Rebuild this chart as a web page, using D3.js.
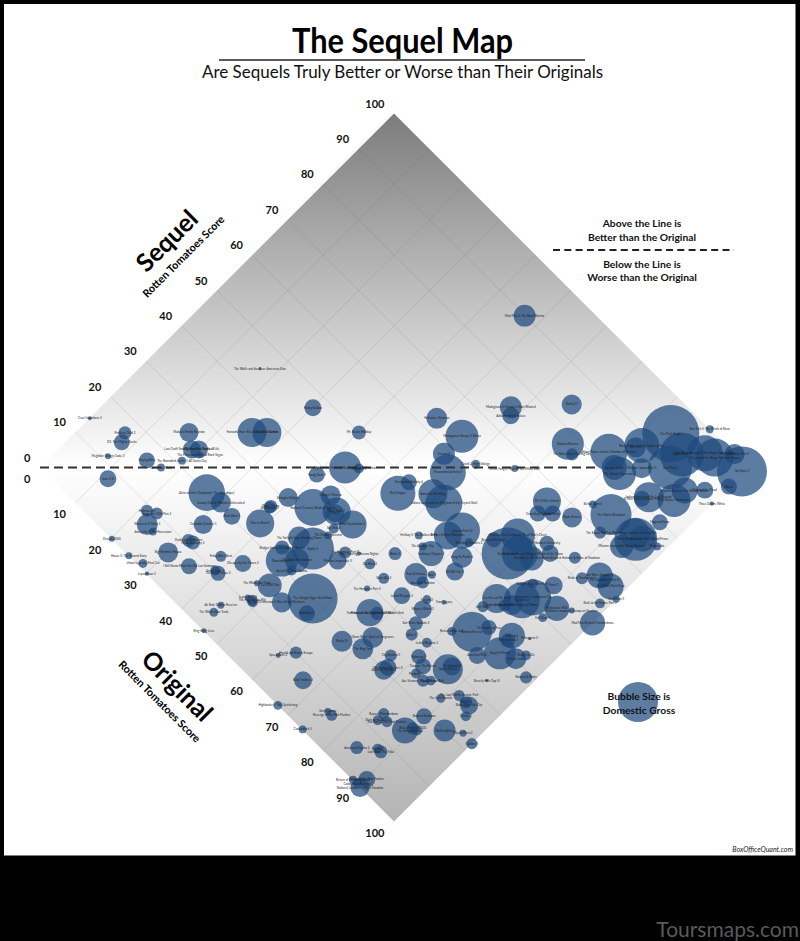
<!DOCTYPE html>
<html><head><meta charset="utf-8">
<style>html,body{margin:0;padding:0;background:#000}svg{display:block}text{font-family:Lato,"Open Sans",sans-serif}</style>
<script src="https://cdn.jsdelivr.net/npm/d3@7"></script></head><body><div id="c"></div>
<script>
// rows of ten
const titles=[
"Cruel Intentions 2","Problem Child 2","D2: The Mighty Ducks","Megiddo: Omega Code 2","Staying Alive","The Boondock Saints II: All Saints Day","Son of the Mask","Madea's Family Reunion","Lara Croft Tomb Raider: The Cradle of Life","Big Momma's House 2",
"The Flintstones in Viva Rock Vegas","Fantastic Four: Rise of the Silver Surfer","Angels & Demons","Jaws 3-D","Alvin and the Chipmunks: The Squeakquel","Scooby-Doo 2: Monsters Unleashed","Rush Hour 3","Crocodile Dundee II","Halloween II","Friday the 13th Part 2",
"Whatever It Takes 3","Amityville II: The Possession","Dracula 2000","House II: The Second Story","Urban Legends: Final Cut","Leprechaun 2","Big Momma's House","Dumb and Dumberer","Police Academy 2","I Still Know What You Did Last Summer",
"Stuart Little 2","The Santa Clause 2","Friday After Next","Cheaper by the Dozen 2","Men in Black II","Anchorman 2","The Whole Ten Yards","Teen Wolf Too","Leprechaun 3","The Next Karate Kid",
"The Fly II","Air Bud: Golden Receiver","The Whole Nine Yards","Rocky Balboa","Mr. Bean's Holiday","Hellraiser: Nemesis","Madagascar: Escape 2 Africa","Scream 4","Paranormal Activity 3","Crank 2: High Voltage",
"White Fang 2: Myth of the White Wolf","Madagascar 3: Europe's Most Wanted","Addams Family Values","Night at the Museum: Battle of the Smithsonian","Hellraiser II","Young Guns II","Shanghai Knights","National Treasure: Book of Secrets","Ocean's Thirteen","Rush Hour 2",
"Cars 2","Final Destination 2","Blade: Trinity","Spy Kids 2","The Mummy Returns","Red Dragon","Paranormal Activity 4","American Wedding","Indiana Jones and the Kingdom of the Crystal Skull","Jurassic Park III",
"X-Men Origins: Wolverine","Hellboy II: The Golden Army","Wedding Crashers 2","Beverly Hills Cop II","Pirates of the Caribbean: Dead Man's Chest","Shrek the Third","Clear and Present Danger","Kung Fu Panda 2","Insidious: Chapter 2","Die Another Day",
"Blade II","Kill Bill: Vol. 1","Fast & Furious","American Reunion","Saw II","Die Hard 2","Sister Act 2","The Hangover Part II","Lethal Weapon 2","Scream 2",
"Wayne's World 2","Tron: Legacy","Transformers: Revenge of the Fallen","Pirates of the Caribbean: At World's End","The Twilight Saga: New Moon","Bad Boys II","Terminator 3: Rise of the Machines","Rocky V","The Twilight Saga: Breaking Dawn","Ghostbusters II",
"The Matrix Revolutions","Speed 2: Cruise Control","Bridget Jones: The Edge of Reason","Mission: Impossible II","The Hangover Part III","Dirty Dancing: Havana Nights","Live Free or Die Hard","Toy Story 2","Iron Man 3","Friday the 13th",
"Batman Forever","Rocky III","Batman Returns","The Naked Gun: The Big Day","The Dark Knight","Harry Potter and the Chamber of Secrets","Licence to Kill","The Bourne Supremacy","Harry Potter and the Goblet of Fire","Star Trek",
"Mission: Impossible III","Iron Man 2","Spider-Man 2","Star Wars: Episode V The Empire Strikes Back","The Lord of the Rings: The Two Towers","Star Trek II: The Wrath of Khan","The Godfather: Part II","Toy Story 3","Aliens","Dawn of the Dead",
"Captain America: The Winter Soldier","The Bourne Ultimatum","Indiana Jones and the Last Crusade","X-Men: Days of Future Past","Three Colors: White","Before Sunset","The Matrix Reloaded","Magnum Force","Shrek 2","The Hunger Games: Catching Fire",
"Harry Potter and the Half-Blood Prince","Mission: Impossible Ghost Protocol","The Karate Kid Part II","Desperado","X2: X-Men United","Crouching Tiger II","Tomb Raider","Blade Runner","Monsters University","Wrath of the Titans",
"Sherlock Holmes: A Game of Shadows","Gremlins 2: The New Batch","Star Wars: Episode III","Hot Shots! Part Deux","The Godfather: Part III","Bride of Frankenstein","Superman II","Back to the Future Part II","Jaws 2","Terminator 2: Judgment Day",
"Twilight Zone: The Movie","Halloween: H20","National Lampoon's European Vacation","Mad Max Beyond Thunderdome","Evil Dead II","Indiana Jones and the Temple of Doom","Star Wars: Episode II","Alien 3","The Empire of Fear","Return of the Jedi",
"Sister Act","Men in Black 3","Kung Fu Panda","American Pie 2","Fletch Lives","Return to Oz","Poltergeist II","Lethal Weapon 3","Robocop 2","Cocoon: The Return",
"Spider-Man 3","The Exorcist II","Predator 2","Ace Ventura: When Nature Calls","Speed Racer 2","Batman & Robin","Beverly Hills Cop III","The Little Rascals","The Lost World: Jurassic Park","Babe: Pig in the City",
"Porky's II","Grease 2","Book of Shadows","The Sting II","Hannibal","Shaft in Africa","Mystic Pizza 2","Cocoon II","King Kong Lives","Rocky IV",
"Ghost Rider: Spirit of Vengeance","The Ring Two","Harold and Kumar Escape","Speed Zone 2","Basic Instinct 2","Highlander II: The Quickening","Caddyshack II","Son of Lassie","Revenge of the Pink Panther","Beyond Thunderdome",
"Back to the Beach","Star Trek V: The Final Frontier","Blues Brothers 2000","American Psycho 2","Psycho II","Lost Boys: The Tribe","Return of the Pink Panther","Return of the Living Dead","National Lampoon's Vegas Vacation","Caddyshack Returns",
"Weekend at Bernie's II","Aliens vs. Predator","City Slickers II","Mad Max 2: The Road Warrior","The Wolfe and the Bear: American Zion"];

const originalScore=[
0.1,7.1,8,8,14.1,19.1,17.1,16.1,18.9,19.9,
20.8,25,27.1,11.2,27.1,30.5,34,31.1,21.2,23,
23.2,25,20.2,25,28.1,30.1,30.1,31.3,32.2,35,
39.3,40.1,38.1,42.2,39,38.1,47,49.1,47.7,48.7,
49.1,45,45,30.1,40.1,49.1,55.2,55.1,58.3,61.1,
67.2,58,59.2,43.1,45.2,40.1,39.3,44.2,45,48.1,
48.1,52.2,38.1,50.1,50.3,54.2,54.2,59.2,62.1,68.5,
67.2,63.1,71.2,74.3,77.1,78.2,79.9,72.3,67.4,65.2,
62.3,73.3,68.2,70.3,70.5,60.2,64.2,63.3,69.2,73.3,
74.1,76.1,67.1,68.2,57,58.3,53.2,50,46.5,47.3,
49.4,50.1,45.5,55.2,55.1,57.2,83,86.8,82.2,85.1,
84.2,66.2,71.2,73.3,84.3,78.2,81.1,82.7,81.9,81.3,
85.1,89,88.8,91.9,93.9,89.2,96.2,99.7,100,97.1,
94.3,94.2,90.2,89.4,100,83.3,87.3,95.3,94.3,93.3,
95.2,93.3,88.3,98.3,76.4,76.8,78.9,82.2,82.3,84.2,
88.3,82.3,94.3,97.4,95.7,92.2,100,98.3,89.2,88,
86,92.9,95.3,100,92.2,86.1,75.1,76.1,86,81.3,
90.4,90.5,91.2,88.3,94.2,95.2,93.3,79.4,80.2,82.2,
86.1,86.3,82.2,84.2,85.3,98.3,93.2,89.2,91.4,94.2,
93.3,95.3,89.4,88.7,90.4,94.3,97.3,100,46.2,67.2,
71,71.2,62.3,60.2,67.2,67.2,74.1,75.1,76.2,83.3,
83.4,84.9,89.5,84.3,87.4,88.3,90.2,88.3,90.4,89.4,
77.4,77.2,76.1,47,17.1];

const sequelScore=[
14,16.9,15.1,11.2,16.1,21,17.1,26,24,25,
24.4,34.9,37,8,20,20.6,20.2,15,9,10,
7.1,6.9,0.1,0.1,1,0.1,6.1,10.7,11,7.1,
10.2,10.2,13,15.1,23.2,26.8,14.3,15.8,11,11.2,
11,6.1,4.1,47,50,63,64,59,56.9,62,
66.9,75,73.8,43.1,44.9,38.1,30.8,32.9,37.1,35.7,
35.2,36.1,27.1,32.9,31.1,46.9,50,51.8,52,50.7,
48,43.9,50,53.9,57.9,53.9,55.6,46.9,43.1,42.9,
38,43.9,38,37.8,40.2,33,32.9,29.1,33,36,
34,38,26.1,27,20,17.1,15.1,27.1,26.7,21,
23.2,21,22.9,28.9,31.1,32.9,46,49.3,42.9,46.2,
37.8,84,77.9,77,93.9,82.5,81.1,81,88.1,87,
84.9,89,92.5,95.9,96.7,100,100,98.6,94.6,90.7,
87.8,84.9,81.8,80.6,89.8,72.9,74,79.8,74,74.7,
75.1,71,69.9,76,66.8,63.8,65.9,68.1,60.9,59.9,
62.8,56.6,63.8,63.8,63.8,60.9,62.8,59.9,55.9,51.3,
53.2,53.1,54.9,56.1,49.8,47.2,31.1,28.9,40.8,35,
42.9,41.7,38.7,35.2,40.2,42.1,45,29.9,26.8,26,
29.1,30.1,24,24,25.1,39,33,24,27,27,
27,25,19.1,14.4,16.1,20,22.2,22,0.1,18.1,
23,20,10,7.1,7.1,0,0.1,6.2,6.2,13.8,
12,13.1,15.8,5.2,8,8,2.1,0.1,0,0.1,
20.9,19.9,23,89.9,45];

const domesticGross=[
2.6,28,42,6,42,10,10,59,53,53,
6,138,138,47,219,66,47,59,24,24,
72,10,6,8,13,3,66,28,32,42,
16,37,20,47,129,24,6,94,6,20,
16,8,13,47,32,72,179,79,213,13,
8,79,47,168,16,42,59,224,66,129,
53,129,28,16,10,201,42,138,224,213,
129,10,13,37,190,443,213,72,103,10,
28,53,87,24,10,20,20,6,47,13,
53,4,120,28,410,42,66,289,79,168,
94,16,32,53,24,3,138,213,20,24,
262,66,168,24,533,224,103,179,201,66,
66,317,317,213,237,10,66,410,42,47,
111,179,148,42,3,10,276,42,303,148,
111,87,24,10,129,42,42,66,37,47,
24,94,111,111,24,24,8,16,53,213,
16,103,6,103,13,66,32,24,37,13,
111,32,168,47,72,16,1.5,16,37,42,
148,53,16,24,16,24,1.5,13,20,53,
24,16,42,111,16,79,8,20,4,72,
72,72,24,4,53,13,10,8,20,20,
16,20,24,28,16,28,47,10,59,10,
47,59,24,79,1.5];

const sequelTicks=[0,10,20,30,40,50,60,70,80,90,100];
const originalTicks=[0,10,20,30,40,50,60,70,80,90,100];
const legendGross=[262];
const headline="The Sequel Map";
const subhead="Are Sequels Truly Better or Worse than Their Originals";
const aboveNote=["Above the Line is","Better than the Original"];
const belowNote=["Below the Line is","Worse than the Original"];
const legendNote=["Bubble Size is","Domestic Gross"];

const W=800,H=941;
const svg=d3.select("#c").append("svg").attr("width",W).attr("height",H);
const sumX=d3.scaleLinear().domain([0,200]).range([40,748]);
const diffY=d3.scaleLinear().domain([-100,100]).range([821.5,113.5]);
const r=d3.scaleSqrt().domain([0,533]).range([0,28.5]);
const px=(o,s)=>sumX(o+s), py=(o,s)=>diffY(s-o);

svg.append("rect").attr("width",W).attr("height",H).attr("fill","#000");
svg.append("rect").attr("x",4).attr("y",4).attr("width",791.5).attr("height",851.5).attr("fill","#fff");

const grad=svg.append("defs").append("linearGradient").attr("id","g").attr("gradientUnits","userSpaceOnUse")
 .attr("x1",0).attr("x2",0).attr("y1",diffY(100)).attr("y2",diffY(-100));
[[0,"#7c7c7c"],[.5,"#ffffff"],[1,"#b4b4b4"]].forEach(d=>grad.append("stop").attr("offset",d[0]).attr("stop-color",d[1]));

const corners=[[0,0],[0,100],[100,100],[100,0]];
svg.append("path").attr("d",d3.line().x(d=>px(d[0],d[1])).y(d=>py(d[0],d[1]))(corners)+"Z").attr("fill","url(#g)");

// grid
const gridG=svg.append("g").attr("stroke","#666").attr("stroke-opacity",.17).attr("stroke-width",1);
d3.range(10,100,10).forEach(v=>{
  gridG.append("line").attr("x1",px(0,v)).attr("y1",py(0,v)).attr("x2",px(100,v)).attr("y2",py(100,v));
  gridG.append("line").attr("x1",px(v,0)).attr("y1",py(v,0)).attr("x2",px(v,100)).attr("y2",py(v,100));
});

// tick labels
const tickStyle=s=>s.attr("font-size",11).attr("font-weight",700).attr("fill","#111").attr("text-anchor","end").attr("dominant-baseline","central");
svg.append("g").selectAll("text").data(sequelTicks).join("text").call(tickStyle)
 .attr("x",d=>px(0,d)-9.5).attr("y",d=>py(0,d)-10.5).text(d=>d);
svg.append("g").selectAll("text").data(originalTicks).join("text").call(tickStyle)
 .attr("x",d=>px(d,0)-9.5).attr("y",d=>py(d,0)+11).text(d=>d);

// bubbles
const idx=d3.range(titles.length);
svg.append("g").attr("fill","#1f497d").attr("fill-opacity",.72).selectAll("circle").data(idx).join("circle")
 .attr("cx",i=>px(originalScore[i],sequelScore[i])).attr("cy",i=>py(originalScore[i],sequelScore[i])).attr("r",i=>r(domesticGross[i]));

// zero line
svg.append("line").attr("x1",sumX(0)).attr("x2",598).attr("y1",diffY(0)).attr("y2",diffY(0))
 .attr("stroke","#333").attr("stroke-width",2).attr("stroke-dasharray","9 5");

// bubble labels
svg.append("g").attr("font-size",3).attr("fill","#222").attr("text-anchor","middle").attr("dominant-baseline","central")
 .selectAll("text").data(idx).join("text")
 .attr("x",i=>px(originalScore[i],sequelScore[i])).attr("y",i=>py(originalScore[i],sequelScore[i])).text(i=>titles[i]);

// titles
svg.append("text").attr("x",402.5).attr("y",53).attr("text-anchor","middle").attr("font-size",34).attr("font-weight",700).attr("fill","#000")
 .attr("textLength",221).attr("lengthAdjust","spacingAndGlyphs").text(headline);
svg.append("line").attr("x1",219).attr("x2",585).attr("y1",60).attr("y2",60).attr("stroke","#222").attr("stroke-width",1.5);
svg.append("text").attr("x",402.5).attr("y",78).attr("text-anchor","middle").attr("font-size",17).attr("fill","#111")
 .attr("textLength",401).attr("lengthAdjust","spacingAndGlyphs").text(subhead);

// notes
const note=(lines,x,ys,fs)=>lines.forEach((t,i)=>svg.append("text").attr("x",x).attr("y",ys[i]).attr("text-anchor","middle").attr("dominant-baseline","central").attr("font-size",fs).attr("font-weight",700).attr("fill","#111").text(t));
note(aboveNote,642,[223,236.5],10.3);
note(belowNote,642,[263.5,277],10.3);
svg.append("line").attr("x1",553).attr("x2",734).attr("y1",250).attr("y2",250).attr("stroke","#222").attr("stroke-width",1.8).attr("stroke-dasharray","7 4.3");

// rotated axis titles
const rot=(t,x,y,a,fs)=>svg.append("text").attr("transform",`translate(${x},${y}) rotate(${a})`).attr("text-anchor","middle").attr("dominant-baseline","central").attr("font-size",fs).attr("font-weight",700).attr("fill","#000").text(t);
rot("Sequel",166,240,-45,25);
rot("Rotten Tomatoes Score",183,256,-45,10.8);
rot("Original",178,685,45,25);
rot("Rotten Tomatoes Score",160,701,45,10.8);

// size legend
svg.append("g").selectAll("circle").data(legendGross).join("circle").attr("cx",638).attr("cy",702).attr("r",d=>r(d)).attr("fill","#1f497d").attr("fill-opacity",.72);
note(legendNote,639,[696,710],10.3);

svg.append("text").attr("x",793).attr("y",852).attr("text-anchor","end").attr("font-size",7).attr("font-style","italic").attr("fill","#222").text("BoxOfficeQuant.com");
svg.append("text").attr("x",799).attr("y",937).attr("text-anchor","end").attr("font-size",21).attr("font-family","Roboto").attr("fill","#5a5a5a").text("Toursmaps.com");
if(titles.length!==originalScore.length) throw new Error("len "+[titles.length,originalScore.length]);
</script></body></html>
